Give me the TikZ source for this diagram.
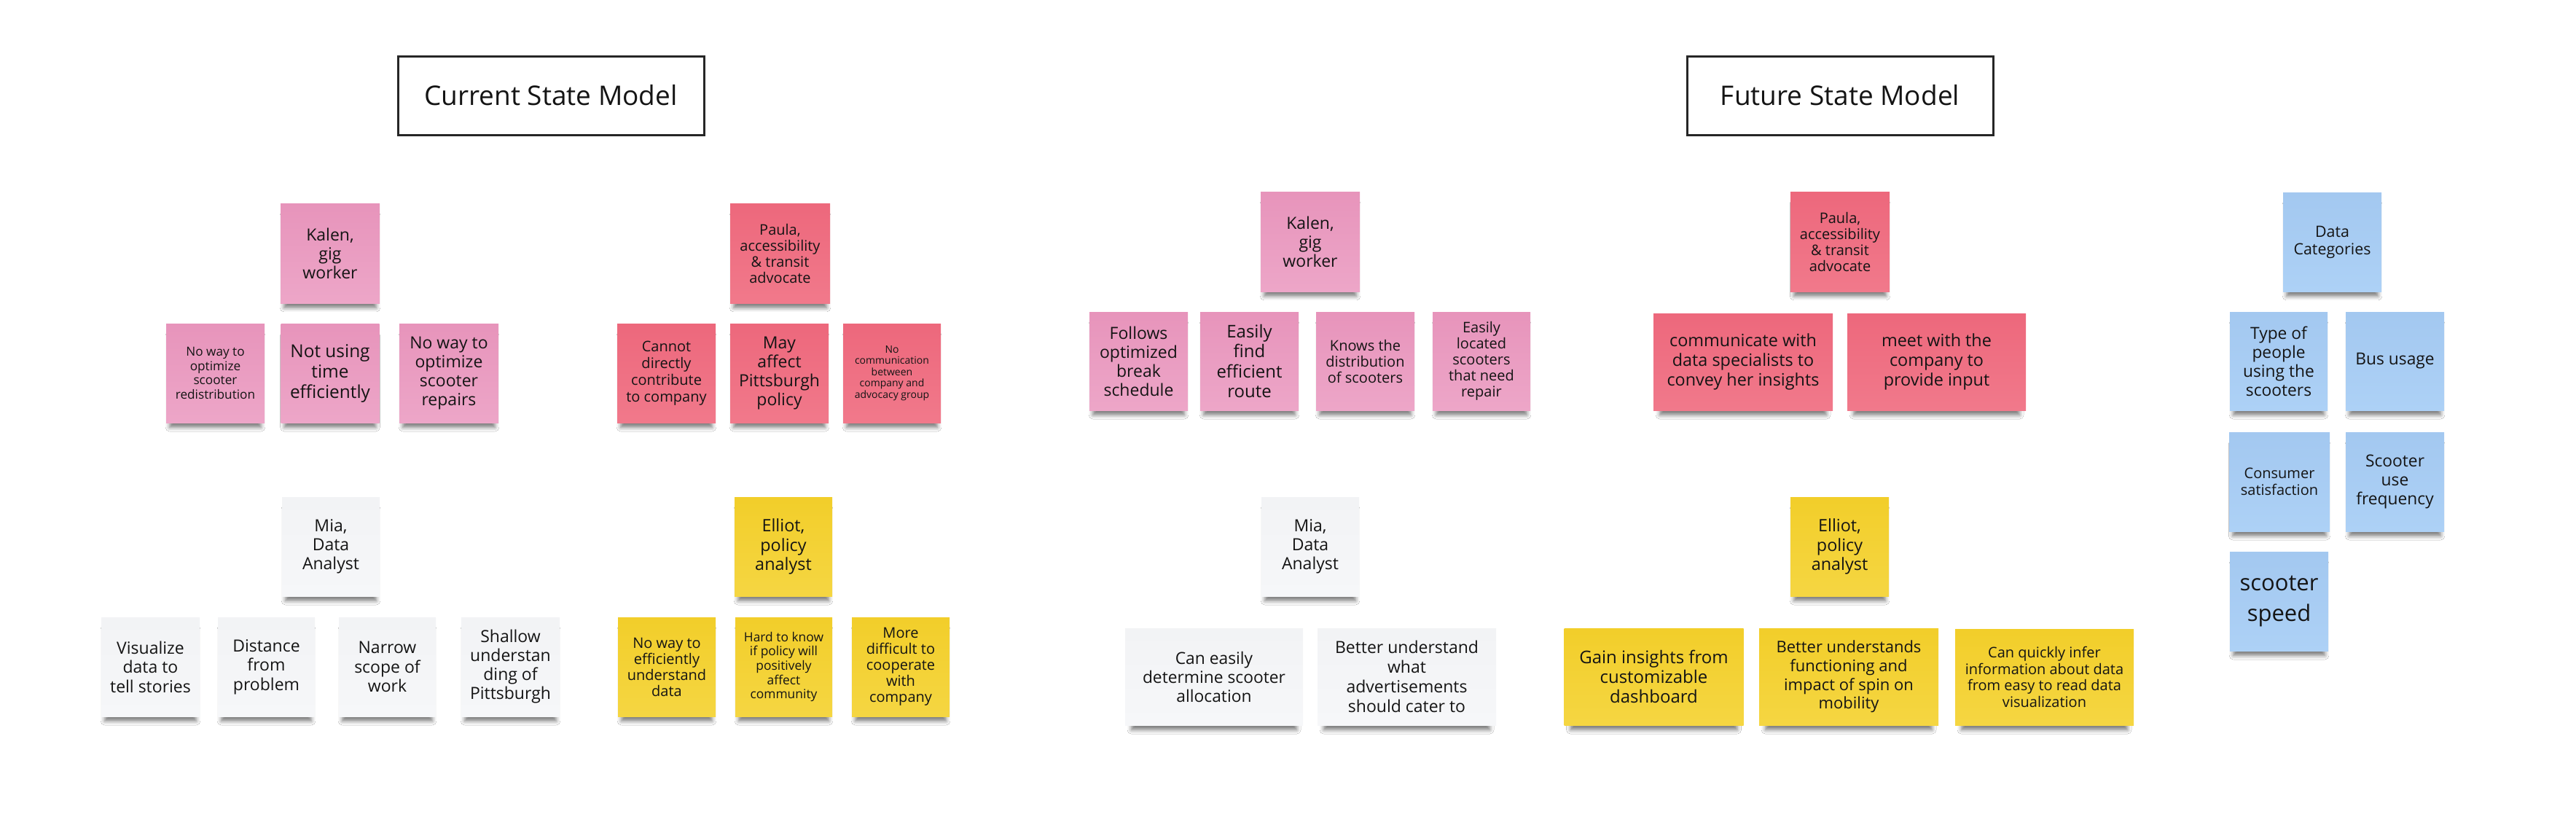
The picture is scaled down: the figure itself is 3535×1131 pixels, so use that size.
\documentclass[tikz,border=0pt]{standalone}
\usepackage{fontspec}
\setmainfont{Open Sans}
\usetikzlibrary{shadows.blur}
\definecolor{txt}{RGB}{20,20,20}
\definecolor{pinkT}{RGB}{231,148,187}
\definecolor{pinkB}{RGB}{237,166,200}
\definecolor{redT}{RGB}{237,104,124}
\definecolor{redB}{RGB}{241,121,139}
\definecolor{grayT}{RGB}{242,243,245}
\definecolor{grayB}{RGB}{246,247,249}
\definecolor{yelT}{RGB}{242,206,42}
\definecolor{yelB}{RGB}{245,214,66}
\definecolor{bluT}{RGB}{163,200,240}
\definecolor{bluB}{RGB}{173,209,246}
\tikzset{
  note/.style={rectangle, inner sep=0pt, align=center, text=txt,
    blur shadow={shadow xshift=0pt, shadow yshift=-6pt, shadow scale=0.93,
      shadow blur radius=3pt, shadow opacity=52}},
  sz/.style 2 args={minimum width=#1*0.5pt, minimum height=#2*0.5pt},
  fs/.style 2 args={font=\fontsize{#1pt}{#2pt}\selectfont},
  pk/.style={note, top color=pinkT, bottom color=pinkB},
  rd/.style={note, top color=redT, bottom color=redB},
  gy/.style={note, top color=grayT, bottom color=grayB},
  yl/.style={note, top color=yelT, bottom color=yelB},
  bl/.style={note, top color=bluT, bottom color=bluB},
  titlebox/.style={rectangle, draw=black!85, line width=1.5pt, fill=white,
    text=txt, font=\fontsize{18.5pt}{22pt}\selectfont},
}
\begin{document}
\begin{tikzpicture}[x=0.5pt, y=-0.5pt]
\useasboundingbox (0,0) rectangle (3535,1131);
\fill[white] (0,0) rectangle (3535,1131);

% titles
\node[titlebox, sz={420}{108}] (t1) at (756,131) {Current State Model};
\node[titlebox, sz={420}{108}] (t2) at (2525,131) {Future State Model};

% ---- Current state: Kalen
\node[pk, sz={136}{137}, fs={11.5}{13}] (kalen1) at (453,347.5) {Kalen,\\gig\\worker};
\node[pk, sz={135}{136}, fs={8.6}{9.7}] (cr1) at (295.5,512) {No way to\\optimize\\scooter\\redistribution};
\node[pk, sz={135}{136}, fs={12.2}{14}] (cr2) at (453,512) {Not using\\time\\efficiently};
\node[pk, sz={136}{136}, fs={11.5}{13}] (cr3) at (616,512) {No way to\\optimize\\scooter\\repairs};

% ---- Current state: Paula
\node[rd, sz={137}{137}, fs={10}{11}] (paula1) at (1070.5,347.5) {Paula,\\accessibility\\\&~transit\\advocate};
\node[rd, sz={135}{136}, fs={10}{11.5}] (cp1) at (914.5,512) {Cannot\\directly\\contribute\\to company};
\node[rd, sz={135}{136}, fs={11.5}{13}] (cp2) at (1069.5,512) {May\\affect\\Pittsburgh\\policy};
\node[rd, sz={134}{136}, fs={7}{7.8}] (cp3) at (1224,512) {No\\communication\\between\\company and\\advocacy group};

% ---- Current state: Mia
\node[gy, sz={134}{136}, fs={11.5}{13}] (mia1) at (454,750) {Mia,\\Data\\Analyst};
\node[gy, sz={135}{136}, fs={11.5}{13.3}] (cm1) at (206.5,915) {Visualize\\data to\\tell stories};
\node[gy, sz={133}{136}, fs={11.5}{13.3}] (cm2) at (365.5,915) {Distance\\from\\problem};
\node[gy, sz={133}{136}, fs={11.5}{13.3}] (cm3) at (531.5,915) {Narrow\\scope of\\work};
\node[gy, sz={135}{136}, fs={11.5}{13}] (cm4) at (700.5,915) {Shallow\\understan\\ding of\\Pittsburgh};

% ---- Current state: Elliot
\node[yl, sz={134}{136}, fs={11.7}{13.3}] (elliot1) at (1075,750) {Elliot,\\policy\\analyst};
\node[yl, sz={134}{136}, fs={10}{11}] (ce1) at (915,915) {No way to\\efficiently\\understand\\data};
\node[yl, sz={133}{136}, fs={8.7}{9.8}] (ce2) at (1075.5,915) {Hard to know\\if policy will\\positively\\affect\\community};
\node[yl, sz={134}{136}, fs={10}{11}] (ce3) at (1236,915) {More\\difficult to\\cooperate\\with\\company};

% ---- Future state: Kalen
\node[pk, sz={136}{137}, fs={11.5}{13}] (kalen2) at (1798,331.5) {Kalen,\\gig\\worker};
\node[pk, sz={135}{135}, fs={11.5}{13}] (fk1) at (1562.5,495.5) {Follows\\optimized\\break\\schedule};
\node[pk, sz={135}{135}, fs={12}{13.8}] (fk2) at (1714.5,495.5) {Easily\\find\\efficient\\route};
\node[pk, sz={135}{135}, fs={10}{11}] (fk3) at (1873.5,495.5) {Knows the\\distribution\\of scooters};
\node[pk, sz={134}{135}, fs={10}{11}] (fk4) at (2033,495.5) {Easily\\located\\scooters\\that need\\repair};

% ---- Future state: Paula
\node[rd, sz={136}{137}, fs={10}{11}] (paula2) at (2525,331.5) {Paula,\\accessibility\\\&~transit\\advocate};
\node[rd, sz={246}{133}, fs={11.7}{13.7}] (fp1) at (2392,496.5) {communicate with\\data specialists to\\convey her insights};
\node[rd, sz={245}{133}, fs={11.7}{13.7}] (fp2) at (2657.5,496.5) {meet with the\\company to\\provide input};

% ---- Future state: Mia
\node[gy, sz={134}{136}, fs={11.5}{13}] (mia2) at (1798,750) {Mia,\\Data\\Analyst};
\node[gy, sz={244}{133}, fs={11.4}{13}] (fm1) at (1666,928.5) {Can easily\\determine scooter\\allocation};
\node[gy, sz={245}{133}, fs={11.5}{13.5}] (fm2) at (1930.5,928.5) {Better understand\\what\\advertisements\\should cater to};

% ---- Future state: Elliot
\node[yl, sz={135}{136}, fs={11.7}{13.3}] (elliot2) at (2524.5,750) {Elliot,\\policy\\analyst};
\node[yl, sz={246}{133}, fs={12}{13.4}] (fe1) at (2269.5,928.5) {Gain insights from\\customizable\\dashboard};
\node[yl, sz={246}{133}, fs={11}{12.9}] (fe2) at (2537,928.5) {Better understands\\functioning and\\impact of spin on\\mobility};
\node[yl, sz={245}{132}, fs={10}{11.3}] (fe3) at (2805.5,929) {Can quickly infer\\information about data\\from easy to read data\\visualization};

% ---- Data categories
\node[bl, sz={135}{136}, fs={10.7}{12}] (dc) at (3200.5,332) {Data\\Categories};
\node[bl, sz={134}{135}, fs={11.4}{13}] (b1) at (3127,495.5) {Type of\\people\\using the\\scooters};
\node[bl, sz={135}{135}, fs={11.4}{13}] (b2) at (3286.5,495.5) {Bus usage};
\node[bl, sz={138}{136}, fs={10}{11.7}] (b3) at (3128,661) {Consumer\\satisfaction};
\node[bl, sz={135}{136}, fs={11.4}{13}] (b4) at (3286.5,661) {Scooter\\use\\frequency};
\node[bl, sz={135}{136}, fs={15.5}{21}] (b5) at (3127.5,825) {scooter\\speed};
\end{tikzpicture}
\end{document}
